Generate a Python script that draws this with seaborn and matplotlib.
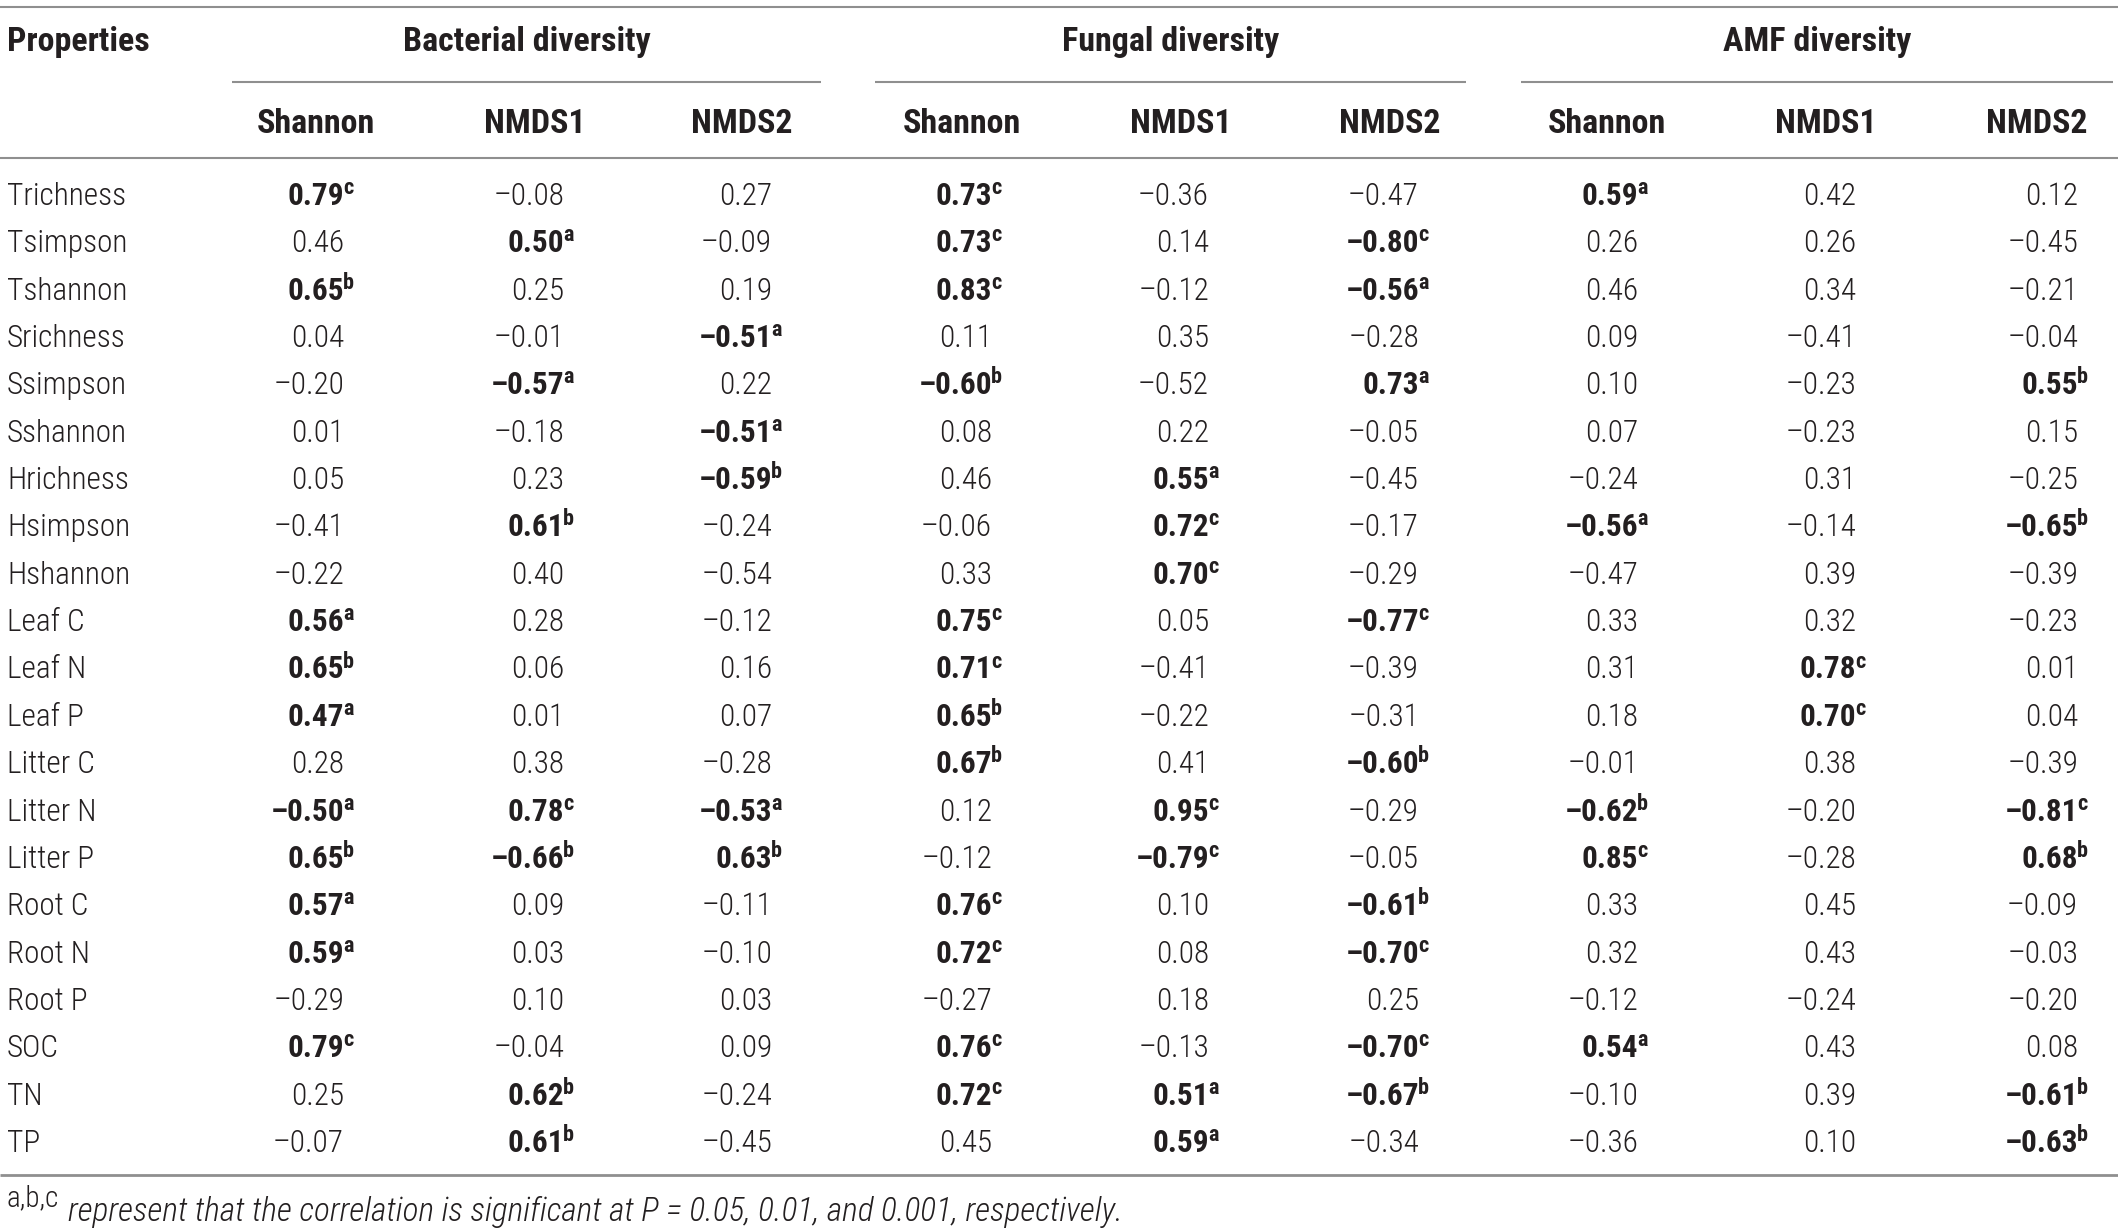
import numpy as np
import pandas as pd
import matplotlib
matplotlib.use("Agg")
import matplotlib.pyplot as plt
from matplotlib import font_manager
import seaborn as sns

# ---------------- data ----------------
properties = ["Trichness", "Tsimpson", "Tshannon", "Srichness", "Ssimpson", "Sshannon",
              "Hrichness", "Hsimpson", "Hshannon", "Leaf C", "Leaf N", "Leaf P",
              "Litter C", "Litter N", "Litter P", "Root C", "Root N", "Root P",
              "SOC", "TN", "TP"]
groups = ["Bacterial diversity", "Fungal diversity", "AMF diversity"]
metrics = ["Shannon", "NMDS1", "NMDS2"]

bac_shannon = [0.79, 0.46, 0.65, 0.04, -0.20, 0.01, 0.05, -0.41, -0.22, 0.56, 0.65, 0.47,
               0.28, -0.50, 0.65, 0.57, 0.59, -0.29, 0.79, 0.25, -0.07]
bac_shannon_sig = ["c", "", "b", "", "", "", "", "", "", "a", "b", "a",
                   "", "a", "b", "a", "a", "", "c", "", ""]
bac_nmds1 = [-0.08, 0.50, 0.25, -0.01, -0.57, -0.18, 0.23, 0.61, 0.40, 0.28, 0.06, 0.01,
             0.38, 0.78, -0.66, 0.09, 0.03, 0.10, -0.04, 0.62, 0.61]
bac_nmds1_sig = ["", "a", "", "", "a", "", "", "b", "", "", "", "",
                 "", "c", "b", "", "", "", "", "b", "b"]
bac_nmds2 = [0.27, -0.09, 0.19, -0.51, 0.22, -0.51, -0.59, -0.24, -0.54, -0.12, 0.16, 0.07,
             -0.28, -0.53, 0.63, -0.11, -0.10, 0.03, 0.09, -0.24, -0.45]
bac_nmds2_sig = ["", "", "", "a", "", "a", "b", "", "", "", "", "",
                 "", "a", "b", "", "", "", "", "", ""]

fun_shannon = [0.73, 0.73, 0.83, 0.11, -0.60, 0.08, 0.46, -0.06, 0.33, 0.75, 0.71, 0.65,
               0.67, 0.12, -0.12, 0.76, 0.72, -0.27, 0.76, 0.72, 0.45]
fun_shannon_sig = ["c", "c", "c", "", "b", "", "", "", "", "c", "c", "b",
                   "b", "", "", "c", "c", "", "c", "c", ""]
fun_nmds1 = [-0.36, 0.14, -0.12, 0.35, -0.52, 0.22, 0.55, 0.72, 0.70, 0.05, -0.41, -0.22,
             0.41, 0.95, -0.79, 0.10, 0.08, 0.18, -0.13, 0.51, 0.59]
fun_nmds1_sig = ["", "", "", "", "", "", "a", "c", "c", "", "", "",
                 "", "c", "c", "", "", "", "", "a", "a"]
fun_nmds2 = [-0.47, -0.80, -0.56, -0.28, 0.73, -0.05, -0.45, -0.17, -0.29, -0.77, -0.39, -0.31,
             -0.60, -0.29, -0.05, -0.61, -0.70, 0.25, -0.70, -0.67, -0.34]
fun_nmds2_sig = ["", "c", "a", "", "a", "", "", "", "", "c", "", "",
                 "b", "", "", "b", "c", "", "c", "b", ""]

amf_shannon = [0.59, 0.26, 0.46, 0.09, 0.10, 0.07, -0.24, -0.56, -0.47, 0.33, 0.31, 0.18,
               -0.01, -0.62, 0.85, 0.33, 0.32, -0.12, 0.54, -0.10, -0.36]
amf_shannon_sig = ["a", "", "", "", "", "", "", "a", "", "", "", "",
                   "", "b", "c", "", "", "", "a", "", ""]
amf_nmds1 = [0.42, 0.26, 0.34, -0.41, -0.23, -0.23, 0.31, -0.14, 0.39, 0.32, 0.78, 0.70,
             0.38, -0.20, -0.28, 0.45, 0.43, -0.24, 0.43, 0.39, 0.10]
amf_nmds1_sig = ["", "", "", "", "", "", "", "", "", "", "c", "c",
                 "", "", "", "", "", "", "", "", ""]
amf_nmds2 = [0.12, -0.45, -0.21, -0.04, 0.55, 0.15, -0.25, -0.65, -0.39, -0.23, 0.01, 0.04,
             -0.39, -0.81, 0.68, -0.09, -0.03, -0.20, 0.08, -0.61, -0.63]
amf_nmds2_sig = ["", "", "", "", "b", "", "", "b", "", "", "", "",
                 "", "c", "b", "", "", "", "", "b", "b"]

footnote_sup = "a,b,c"
footnote_text = "represent that the correlation is significant at P = 0.05, 0.01, and 0.001, respectively."

columns = [
    (groups[0], metrics[0], bac_shannon, bac_shannon_sig),
    (groups[0], metrics[1], bac_nmds1, bac_nmds1_sig),
    (groups[0], metrics[2], bac_nmds2, bac_nmds2_sig),
    (groups[1], metrics[0], fun_shannon, fun_shannon_sig),
    (groups[1], metrics[1], fun_nmds1, fun_nmds1_sig),
    (groups[1], metrics[2], fun_nmds2, fun_nmds2_sig),
    (groups[2], metrics[0], amf_shannon, amf_shannon_sig),
    (groups[2], metrics[1], amf_nmds1, amf_nmds1_sig),
    (groups[2], metrics[2], amf_nmds2, amf_nmds2_sig),
]
recs = []
for ci, (g, m, vals, sigs) in enumerate(columns):
    for ri, (v, s) in enumerate(zip(vals, sigs)):
        recs.append(dict(group=g, metric=m, col=ci, row=ri, prop=properties[ri], value=v, sig=s))
df = pd.DataFrame(recs)

# ---------------- style ----------------
sns.set_theme(style="white")

# pick a condensed face if one is installed
entries = font_manager.fontManager.ttflist
def has(name):
    return any(f.name == name for f in entries)

FAMILY = "Roboto"
STRETCH = "normal"
for nm in ["Liberation Sans Narrow", "Roboto Condensed", "Open Sans Condensed", "Noto Sans Condensed"]:
    if has(nm):
        FAMILY = nm
        break
else:
    cond = [f for f in entries if f.name in ("Noto Sans", "Open Sans", "Roboto")
            and (f.stretch == "condensed" or (isinstance(f.stretch, int) and f.stretch < 500))]
    if cond:
        FAMILY = cond[0].name
        STRETCH = "condensed"

plt.rcParams["font.family"] = [FAMILY, "Roboto", "DejaVu Sans"]
plt.rcParams["font.stretch"] = STRETCH
TXT = "#231f20"
LINE = "#8f8f8f"

W, H = 2118, 1230
fig = plt.figure(figsize=(W / 100, H / 100), dpi=100)
fig.patch.set_facecolor("white")
ax = fig.add_axes([0, 0, 1, 1])
ax.set_xlim(0, W)
ax.set_ylim(H, 0)
ax.axis("off")

FS = 22.5        # body font size (pt)
HFS = 24.5       # header font size
SUP = 16         # superscript size
LIGHT = "light"

# layout (pixels)
left_x = 7
y_top = 7
y_group = 42
y_gline = 82
y_sub = 124
y_hline = 158
row0 = 194
row_step = 47.35
y_bottom = 1175
y_foot = 1211

group_spans = [(232, 821), (875, 1466), (1521, 2113)]
sub_centers = [316, 535, 742, 962, 1181, 1390, 1607, 1826, 2037]
num_right = [344, 564, 772, 992, 1209, 1419, 1638, 1856, 2078]

# rules
ax.hlines([y_top, y_hline], 0, W, color=LINE, lw=1.5)
ax.hlines([y_bottom], 0, W, color=LINE, lw=2.0)
for (x0, x1) in group_spans:
    ax.hlines(y_gline, x0, x1, color=LINE, lw=1.5)

# headers
ax.text(left_x, y_group, "Properties", ha="left", va="center", fontsize=HFS,
        fontweight="bold", color=TXT)
for g, (x0, x1) in zip(groups, group_spans):
    ax.text((x0 + x1) / 2, y_group, g, ha="center", va="center", fontsize=HFS,
            fontweight="bold", color=TXT)
for ci, xc in enumerate(sub_centers):
    ax.text(xc, y_sub, metrics[ci % 3], ha="center", va="center", fontsize=HFS,
            fontweight="bold", color=TXT)

def fmt(v):
    s = f"{abs(v):.2f}"
    return ("\u2013" + s) if v < 0 else s

# body
for ri, p in enumerate(properties):
    yb = row0 + ri * row_step + 11
    ax.text(left_x, yb, p, ha="left", va="baseline", fontsize=FS, fontweight=LIGHT, color=TXT)

for _, r in df.iterrows():
    yb = row0 + r["row"] * row_step + 11
    xr = num_right[r["col"]]
    bold = r["sig"] != ""
    ax.text(xr, yb, fmt(r["value"]), ha="right", va="baseline", fontsize=FS,
            fontweight="bold" if bold else LIGHT, color=TXT)
    if bold:
        ax.text(xr - 1, yb - 11, r["sig"], ha="left", va="baseline", fontsize=SUP,
                fontweight="bold", color=TXT)

# footnote
ax.text(left_x, y_foot - 5, footnote_sup, ha="left", va="baseline", fontsize=21,
        fontweight=LIGHT, color=TXT)
ax.text(68, y_foot + 10, footnote_text, ha="left", va="baseline", fontsize=24,
        style="italic", fontweight=LIGHT, color=TXT)

fig.savefig("out.png", dpi=100, facecolor="white")
